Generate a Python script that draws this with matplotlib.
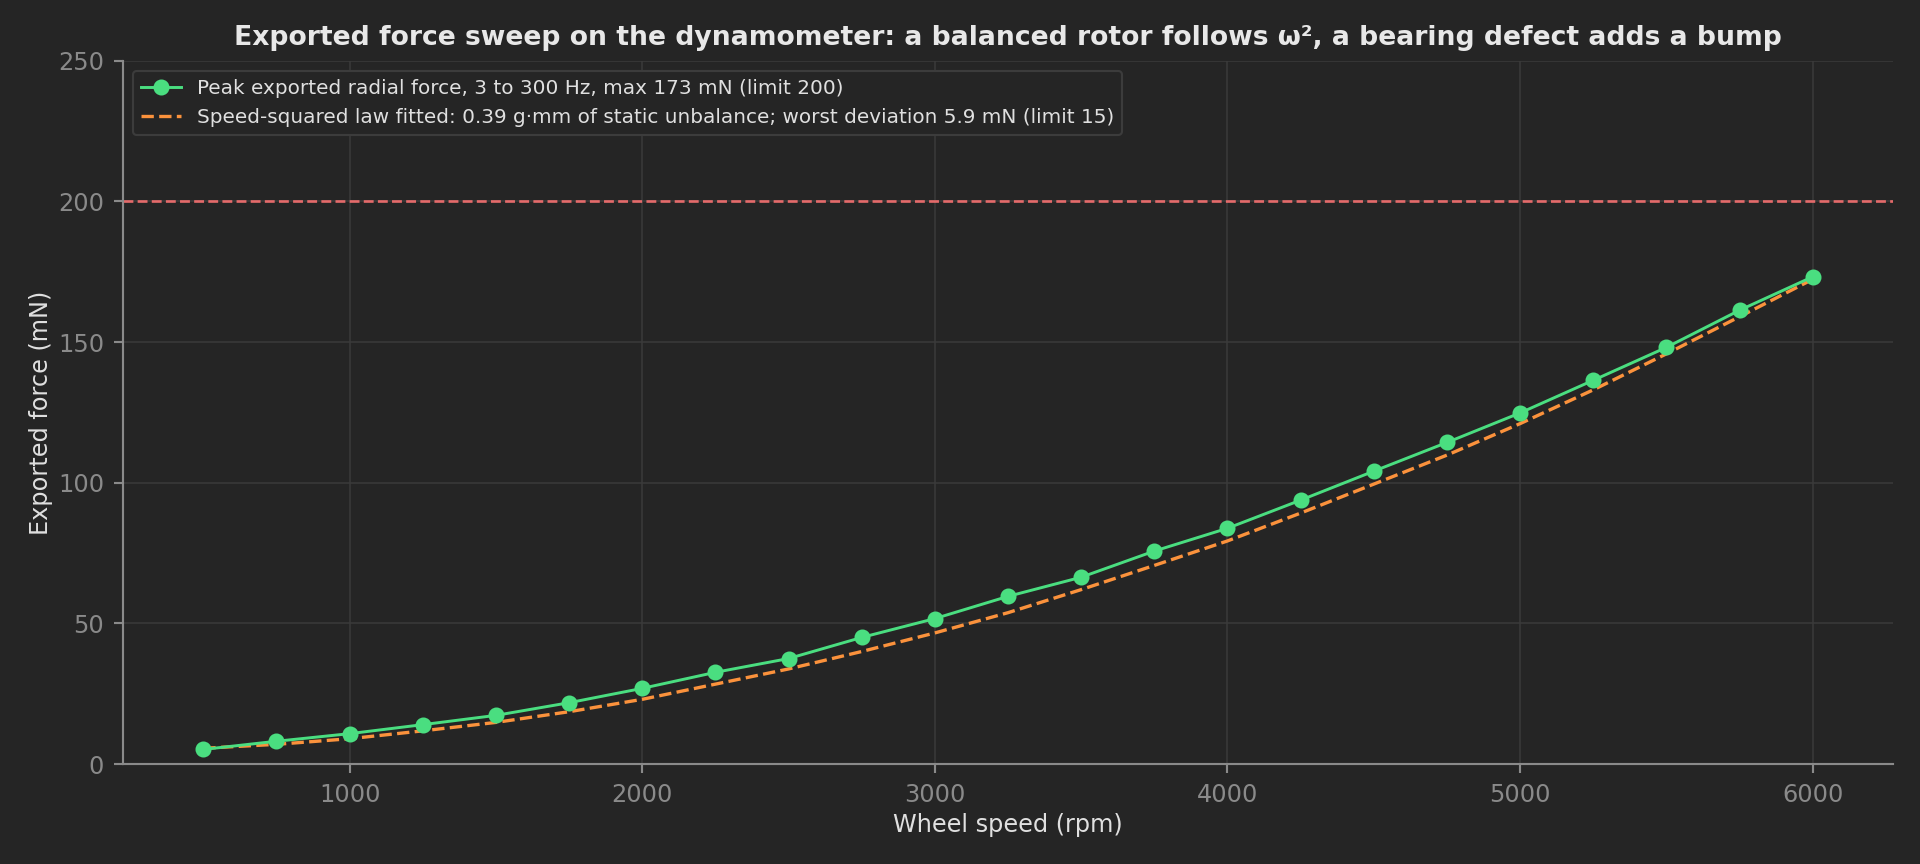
import numpy as np
import matplotlib
matplotlib.use("Agg")
import matplotlib.pyplot as plt

# wheel speed sweep, rpm
speed_rpm = [500, 750, 1000, 1250, 1500, 1750, 2000, 2250, 2500, 2750, 3000, 3250,
             3500, 3750, 4000, 4250, 4500, 4750, 5000, 5250, 5500, 5750, 6000]

# peak exported radial force, mN
peak_force = [5.2, 8.1, 10.8, 14.0, 17.3, 21.8, 26.9, 32.6, 37.5, 45.0, 51.7, 59.6,
              66.4, 75.7, 83.8, 93.8, 104.1, 114.3, 124.8, 136.4, 148.1, 161.3, 173.2]

# speed-squared fit, mN
fit_force = [5.6, 7.0, 9.0, 11.8, 14.8, 18.6, 23.0, 28.4, 33.8, 40.0, 46.6, 53.8,
             62.0, 70.6, 79.3, 89.2, 99.5, 109.8, 121.0, 133.0, 145.8, 159.0, 172.3]

force_limit = 200

label_peak = "Peak exported radial force, 3 to 300 Hz, max 173 mN (limit 200)"
label_fit = ("Speed-squared law fitted: 0.39 g\u00b7mm of static unbalance; "
             "worst deviation 5.9 mN (limit 15)")
title = ("Exported force sweep on the dynamometer: a balanced rotor follows \u03c9\u00b2, "
         "a bearing defect adds a bump")

bg = "#252525"
plt.rcParams["font.family"] = "DejaVu Sans"

fig, ax = plt.subplots(figsize=(10, 4.5), dpi=192)
fig.patch.set_facecolor(bg)
ax.set_facecolor(bg)
fig.subplots_adjust(left=0.064, right=0.986, top=0.9297, bottom=0.1157)

ax.axhline(force_limit, color="#f87171", lw=1.0, ls="--", alpha=0.9, zorder=2)
ax.plot(speed_rpm, peak_force, color="#4ade80", lw=1.1, marker="o", markersize=5,
        label=label_peak, zorder=4)
ax.plot(speed_rpm, fit_force, color="#fb923c", lw=1.25, ls="--", label=label_fit, zorder=3)

ax.set_ylim(0, 250)
ax.set_yticks([0, 50, 100, 150, 200, 250])
ax.grid(True, color="#3a3a3a", lw=0.6, zorder=0)
ax.set_axisbelow(True)

for side in ["top", "right"]:
    ax.spines[side].set_visible(False)
for side in ["left", "bottom"]:
    ax.spines[side].set_color("#8a8a8a")
    ax.spines[side].set_linewidth(0.8)
ax.tick_params(colors="#8a8a8a", labelsize=9, width=0.8)

ax.set_xlabel("Wheel speed (rpm)", color="#e0e0e0", fontsize=9, labelpad=2.5)
ax.set_ylabel("Exported force (mN)", color="#e0e0e0", fontsize=9, labelpad=2)
ax.set_title(title, color="#e8e8e8", fontsize=10, fontweight="bold")

leg = ax.legend(loc="upper left", fontsize=7.5, facecolor=bg, edgecolor="#3c3c3c",
                framealpha=1.0, labelcolor="#e0e0e0")
leg.get_frame().set_linewidth(0.8)

fig.savefig("out.png", dpi=192, facecolor=bg)
